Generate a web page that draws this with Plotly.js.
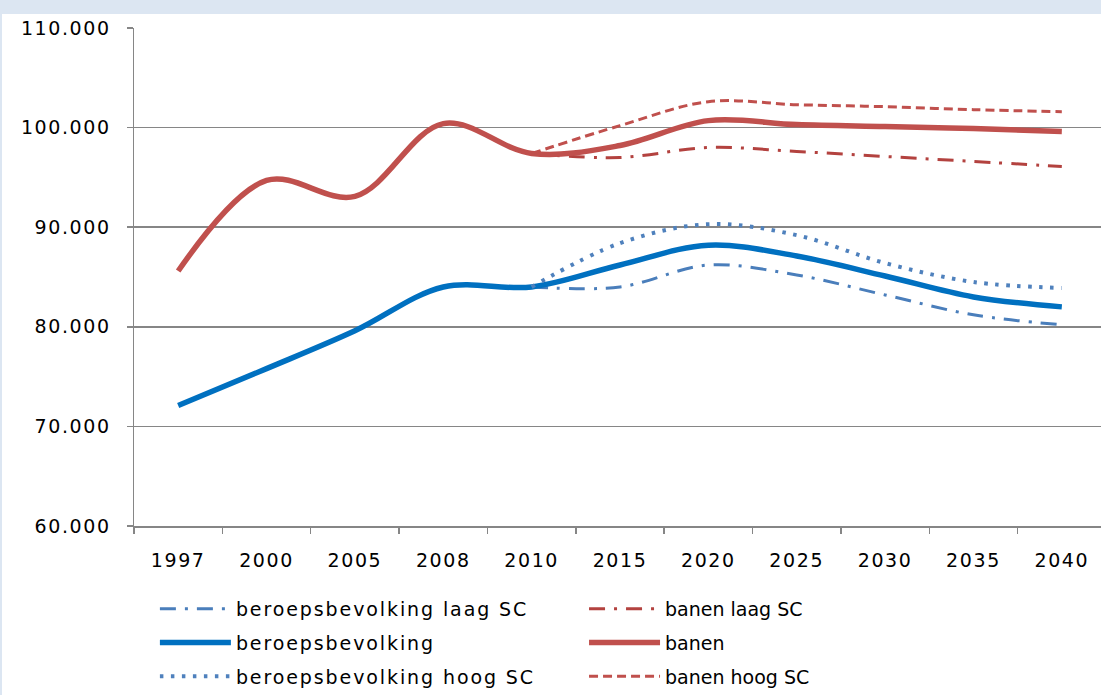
<!DOCTYPE html>
<html>
<head>
<meta charset="utf-8">
<script src="https://cdn.plot.ly/plotly-3.0.1.min.js"></script>
<style>
html,body{margin:0;padding:0;width:1101px;height:695px;overflow:hidden;background:#DCE6F2;}
#wrap{position:absolute;left:2px;top:14px;width:1099px;height:681px;overflow:hidden;background:#ffffff;}
#chart{position:absolute;left:0;top:0;width:1104px;height:681px;}
.xtick text, .ytick text{letter-spacing:1.6px;}
.legendtext{letter-spacing:1.9px;}
</style>
</head>
<body>
<div id="wrap"><div id="chart"></div></div>
<script>
const years = ['1997','2000','2005','2008','2010','2015','2020','2025','2030','2035','2040'];
const beroepsLaag = [null,null,null,null,84000,84000,86200,85200,83200,81200,80200];
const banenLaag   = [null,null,null,null,97400,97000,98000,97600,97100,96600,96100];
const beroeps     = [72100,75800,79600,84000,84000,86200,88200,87100,85100,83000,82000];
const banen       = [85600,94700,93100,100400,97400,98200,100700,100300,100100,99900,99600];
const beroepsHoog = [null,null,null,null,84000,88400,90300,89200,86400,84500,83900];
const banenHoog   = [null,null,null,null,97400,100200,102600,102300,102100,101800,101600];

function tr(name, y, color, width, dash, legend, group){
  return {x: years, y: y, name: name, type:'scatter', mode:'lines',
    line:{color:color, width:width, dash:dash, shape:'spline', smoothing:1},
    connectgaps:false, legend: legend, legendgroup: group, hoverinfo:'skip'};
}
const data = [
  tr('beroepsbevolking laag SC', beroepsLaag, '#4A7EBB', 3, '16px,9px,3px,9px', 'legend', 'a'),
  tr('beroepsbevolking', beroeps, '#0070C0', 5.5, 'solid', 'legend', 'b'),
  tr('beroepsbevolking hoog SC', beroepsHoog, '#4F81BD', 4, '3.5px,7.5px', 'legend', 'c'),
  tr('banen laag SC', banenLaag, '#B3423F', 3, '16px,9px,3px,9px', 'legend2', 'd'),
  tr('banen', banen, '#C0504D', 5.5, 'solid', 'legend2', 'e'),
  tr('banen hoog SC', banenHoog, '#C0504D', 3, '9px,5px', 'legend2', 'f')
];
const legendBase = {
  orientation:'v', yanchor:'top', xanchor:'left', yref:'container', y:0.1542,
  bgcolor:'rgba(0,0,0,0)', borderwidth:0, tracegroupgap:6,
  traceorder:'grouped', itemwidth:71,
  font:{family:'DejaVu Sans, Verdana, sans-serif', size:19, color:'#000'}
};
const layout = {
  width:1104, height:681,
  margin:{l:132, r:0, t:14, b:169, autoexpand:false},
  paper_bgcolor:'#ffffff', plot_bgcolor:'#ffffff',
  separators:',.',
  showlegend:true,
  font:{family:'DejaVu Sans, Verdana, sans-serif', size:19, color:'#000'},
  xaxis:{type:'category', range:[-0.5,10.5], showgrid:false, showline:true, linecolor:'#868686', linewidth:1.5,
    ticks:'outside', tickson:'boundaries', ticklen:6, tickcolor:'#868686', tickwidth:1.5,
    ticklabelstandoff:17, tickfont:{size:19}, fixedrange:true, zeroline:false, automargin:false},
  yaxis:{range:[60000,110000], dtick:10000, tick0:60000, tickformat:',d',
    showgrid:true, gridcolor:'#868686', gridwidth:1.5, showline:true, linecolor:'#868686', linewidth:1.5,
    ticks:'outside', ticklen:6, tickcolor:'#868686', tickwidth:1.5, ticklabelstandoff:12,
    tickfont:{size:19}, zeroline:false, fixedrange:true, automargin:false},
  legend: Object.assign({}, legendBase, {x:0.0215}),
  legend2: Object.assign({}, legendBase, {x:0.463})
};
Plotly.newPlot('chart', data, layout, {displayModeBar:false, staticPlot:true});
</script>
</body>
</html>
